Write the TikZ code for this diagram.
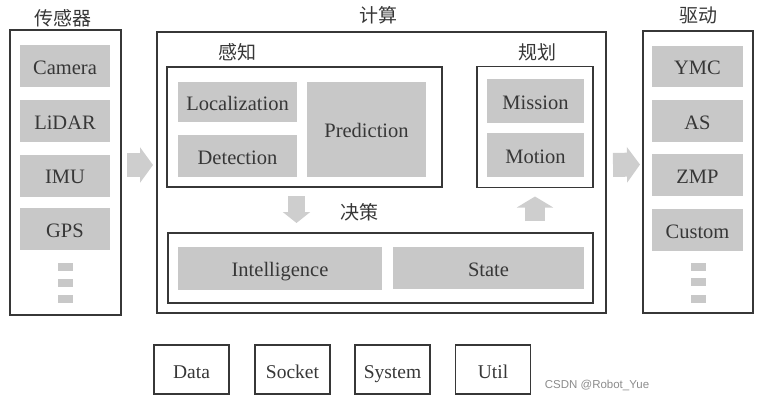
\documentclass[tikz,border=0pt]{standalone}
\usepackage{fontspec}
\setmainfont{Liberation Serif}
\newfontfamily\cjkfont{Noto Sans CJK SC}
\newfontfamily\markfont{Liberation Sans}
\usetikzlibrary{arrows.meta}

\definecolor{boxgray}{RGB}{200,200,200}
\definecolor{arrowgray}{RGB}{206,206,206}
\definecolor{inkgray}{RGB}{55,55,55}

\tikzset{
  frame/.style={draw=inkgray, line width=1.8pt, inner sep=0pt, outer sep=0pt},
  module/.style={fill=boxgray, text=inkgray, inner sep=0pt,
    text height=16pt, text depth=0pt, font=\fontsize{20.5}{24}\selectfont},
  util/.style={draw=inkgray, line width=1.6pt, text=inkgray, inner sep=0pt,
    text height=17pt, text depth=0pt,
    minimum width=75pt, minimum height=49pt, font=\fontsize{19.5}{22}\selectfont},
  title/.style={text=inkgray, font=\cjkfont\fontsize{19}{22}\selectfont},
  dotbox/.style={fill=boxgray, minimum width=15pt, minimum height=8pt, inner sep=0pt},
  flow/.style={draw=arrowgray, line width=24pt,
    -{Triangle[width=35pt,length=13pt]}},
}

\begin{document}
\begin{tikzpicture}[x=1pt,y=-1pt]
  \useasboundingbox (0,0) rectangle (762,402);

  % sensors
  \node[title] (tsens) at (63,18) {传感器};
  \node[frame, minimum width=111pt, minimum height=285pt] (sensors) at (65.5,172.5) {};
  \node[module, minimum width=90pt, minimum height=42pt] (camera) at (65,66) {Camera};
  \node[module, minimum width=90pt, minimum height=42pt] (lidar) at (65,121) {LiDAR};
  \node[module, minimum width=90pt, minimum height=42pt] (imu) at (65,175.5) {IMU};
  \node[module, minimum width=90pt, minimum height=42pt] (gps) at (65,229) {GPS};
  \node[dotbox] (sd1) at (65,267) {};
  \node[dotbox] (sd2) at (65,283) {};
  \node[dotbox] (sd3) at (65,299) {};

  % computing
  \node[title] (tcomp) at (378,15) {计算};
  \node[frame, minimum width=449pt, minimum height=281pt] (compute) at (381.5,172.5) {};

  \node[title] (tperc) at (237,52) {感知};
  \node[frame, minimum width=275pt, minimum height=120pt] (perception) at (304.5,127) {};
  \node[module, minimum width=119pt, minimum height=40pt] (local) at (237.5,102) {Localization};
  \node[module, minimum width=119pt, minimum height=42pt] (detect) at (237.5,156) {Detection};
  \node[module, minimum width=119pt, minimum height=95pt] (predict) at (366.5,129.5) {Prediction};

  \node[title] (tplan) at (537,52) {规划};
  \node[frame, minimum width=116pt, minimum height=121pt] (planning) at (535,127) {};
  \node[module, minimum width=97pt, minimum height=44pt] (mission) at (535.5,101) {Mission};
  \node[module, minimum width=97pt, minimum height=44pt] (motion) at (535.5,155) {Motion};

  \node[title] (tdec) at (359,212) {决策};
  \node[frame, minimum width=425pt, minimum height=70pt] (decision) at (380.5,268) {};
  \node[module, minimum width=204pt, minimum height=43pt] (intel) at (280,268.5) {Intelligence};
  \node[module, minimum width=191pt, minimum height=42pt] (state) at (488.5,268) {State};

  % actuators
  \node[title] (tact) at (698,15) {驱动};
  \node[frame, minimum width=110pt, minimum height=282pt] (actuators) at (698,172) {};
  \node[module, minimum width=91pt, minimum height=41pt] (ymc) at (697.5,66.5) {YMC};
  \node[module, minimum width=91pt, minimum height=42pt] (as) at (697.5,121) {AS};
  \node[module, minimum width=91pt, minimum height=42pt] (zmp) at (697.5,175) {ZMP};
  \node[module, minimum width=91pt, minimum height=42pt] (custom) at (697.5,230) {Custom};
  \node[dotbox] (ad1) at (698.5,267) {};
  \node[dotbox] (ad2) at (698.5,282) {};
  \node[dotbox] (ad3) at (698.5,298.5) {};

  % common libraries
  \node[util] (data) at (191.5,369.5) {Data};
  \node[util] (socket) at (292.5,369.5) {Socket};
  \node[util] (system) at (392.5,369.5) {System};
  \node[util] (util) at (493,369.5) {Util};

  \node[text=black!45, font=\markfont\fontsize{11.5}{13}\selectfont] (mark) at (597,385) {CSDN @Robot\_Yue};

  % data flow
  \draw[flow, shorten <=6pt, shorten >=4pt]
    ([yshift=7.5pt]sensors.east) -- ([yshift=7.5pt]compute.west);
  \draw[flow, shorten <=7pt, shorten >=3pt]
    ([yshift=7.5pt]compute.east) -- ([yshift=7.5pt]actuators.west);
  \draw[flow, line width=17pt, -{Triangle[width=27pt,length=11pt]}, shorten <=9pt, shorten >=10pt]
    ([xshift=-8pt]perception.south) -- ([xshift=-8pt]perception.south |- decision.north);
  \draw[flow, line width=20pt, -{Triangle[width=36pt,length=11pt]}, shorten <=12pt, shorten >=9pt]
    (decision.north -| planning.south) -- (planning.south);
\end{tikzpicture}
\end{document}
